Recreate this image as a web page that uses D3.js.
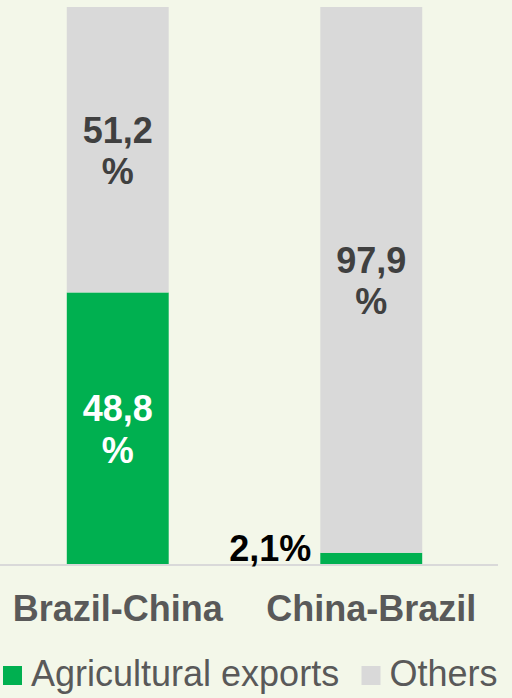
<!DOCTYPE html>
<html>
<head>
<meta charset="utf-8">
<script src="https://cdn.jsdelivr.net/npm/d3@7"></script>
<style>
  html, body { margin: 0; padding: 0; background: #f3f7e9; }
  svg { display: block; font-family: "Liberation Sans", Arial, sans-serif; }
</style>
</head>
<body>
<script>
// data
let categories = ['Brazil-China', 'China-Brazil']
let seriesNames = ['Agricultural exports', 'Others']
let agricultural = [48.8, 2.1]
let others = [51.2, 97.9]
let labelsAgri = [['48,8', '%'], ['2,1%']]
let labelsOthers = [['51,2', '%'], ['97,9', '%']]

let width = 512
	height = 698
	colors = ['#00b050', '#d9d9d9']

let svg = d3.select('body').append('svg')
	.attr('width', width)
	.attr('height', height)

let x = d3.scaleBand()
	.domain(categories)
	.range([-9, 498])
	.paddingInner(0.598)
	.paddingOuter(0.299)

let y = d3.scaleLinear()
	.domain([0, 100])
	.range([564.5, 7])

// stack the two series
let rows = categories.map(function(c, i){
	return {cat: c, agri: agricultural[i], others: others[i]}
})
let stack = d3.stack().keys(['agri', 'others'])(rows)

let groups = svg.selectAll('.layer')
	.data(stack)
	.enter().append('g')
	.attr('fill', function(d, i){ return colors[i] })

groups.selectAll('rect')
	.data(function(d){ return d })
	.enter().append('rect')
	.attr('x', function(d){ return x(d.data.cat) })
	.attr('width', x.bandwidth())
	.attr('y', function(d){ return y(d[1]) })
	.attr('height', function(d){ return y(d[0]) - y(d[1]) })

// axis line
svg.append('line')
	.attr('x1', 0).attr('x2', 498)
	.attr('y1', y(0) + 0.5).attr('y2', y(0) + 0.5)
	.attr('stroke', '#d9d9d9')
	.attr('stroke-width', 2)

// labels inside segments
function segLabel(lines, cx, cy, color){
	let t = svg.append('text')
		.attr('text-anchor', 'middle')
		.attr('font-size', 36)
		.attr('font-weight', 'bold')
		.attr('fill', color)
	lines.forEach(function(l, j){
		t.append('tspan')
			.attr('x', cx)
			.attr('y', cy - 7 + j * 41.5)
			.text(l)
	})
}

stack.forEach(function(layer, k){
	layer.forEach(function(d, i){
		let cx = x(d.data.cat) + x.bandwidth() / 2
		let cy = (y(d[0]) + y(d[1])) / 2
		if (k == 0 && i == 1) {
			// small segment: label outside, left of bar
			svg.append('text')
				.attr('x', x(d.data.cat) - 9)
				.attr('y', y(0) - 3.5)
				.attr('text-anchor', 'end')
				.attr('font-size', 36)
				.attr('font-weight', 'bold')
				.attr('fill', '#000')
				.text(labelsAgri[i][0])
		} else if (k == 0) {
			segLabel(labelsAgri[i], cx, cy, '#ffffff')
		} else {
			segLabel(labelsOthers[i], cx, cy, '#404040')
		}
	})
})

// category labels
svg.selectAll('.cat')
	.data(categories)
	.enter().append('text')
	.attr('class', 'cat')
	.attr('x', function(d){ return x(d) + x.bandwidth() / 2 })
	.attr('y', 621)
	.attr('text-anchor', 'middle')
	.attr('font-size', 36)
	.attr('font-weight', 'bold')
	.attr('fill', '#595959')
	.text(function(d){ return d })

// legend
let legendX = [3, 361.5]
let legend = svg.selectAll('.legend')
	.data(seriesNames)
	.enter().append('g')
	.attr('class', 'legend')
	.attr('transform', function(d, i){ return 'translate(' + legendX[i] + ',666)' })

legend.append('rect')
	.attr('width', 19).attr('height', 19)
	.attr('fill', function(d, i){ return colors[i] })

legend.append('text')
	.attr('x', 28)
	.attr('y', 20)
	.attr('font-size', 36)
	.attr('fill', '#595959')
	.text(function(d){ return d })
</script>
</body>
</html>
